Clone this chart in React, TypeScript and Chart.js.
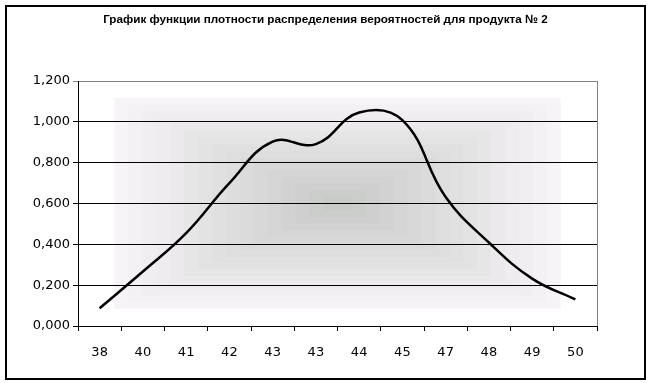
import React, { useEffect, useRef } from "react";
import { Chart, registerables } from "chart.js";

Chart.register(...registerables);

const TITLE = "График функции плотности распределения вероятностей для продукта № 2";
const categories = ["38", "40", "41", "42", "43", "43", "44", "45", "47", "48", "49", "50"];
const density = [0.087, 0.267, 0.455, 0.7, 0.903, 0.891, 1.046, 1.008, 0.632, 0.409, 0.232, 0.13];
const yTicks = [0, 0.2, 0.4, 0.6, 0.8, 1.0, 1.2];

const backgroundPlugin = {
  id: "rectGradient",
  beforeDraw(chart: any) {
    const { ctx, chartArea } = chart;
    const { left, right, top, bottom } = chartArea;
    const cx = (left + right) / 2;
    const cy = (top + bottom) / 2;
    const hw = (right - left) / 2;
    const hh = (bottom - top) / 2;
    ctx.save();
    ctx.fillStyle = "#ffffff";
    ctx.fillRect(left, top, right - left, bottom - top);
    const steps = 16;
    const limit = 0.86;
    const c0 = [197, 199, 197];
    const c1 = [247, 244, 247];
    for (let i = 0; i < steps; i++) {
      const d = limit * (1 - i / steps);
      const t = d / limit;
      const r = Math.round(c0[0] + (c1[0] - c0[0]) * t);
      const g = Math.round(c0[1] + (c1[1] - c0[1]) * t);
      const b = Math.round(c0[2] + (c1[2] - c0[2]) * t);
      ctx.fillStyle = `rgb(${r},${g},${b})`;
      ctx.fillRect(cx - hw * d, cy - hh * d, 2 * hw * d, 2 * hh * d);
    }
    ctx.restore();
  },
  afterDatasetsDraw(chart: any) {
    const { ctx, chartArea } = chart;
    ctx.save();
    ctx.strokeStyle = "#808080";
    ctx.lineWidth = 1;
    ctx.beginPath();
    ctx.moveTo(chartArea.right + 0.5, chartArea.top);
    ctx.lineTo(chartArea.right + 0.5, chartArea.bottom);
    ctx.stroke();
    ctx.restore();
  },
  afterDraw(chart: any) {
    const { ctx, width } = chart;
    ctx.save();
    ctx.fillStyle = "#000000";
    ctx.font = "bold 11.7px 'Liberation Sans', Arial, sans-serif";
    ctx.textAlign = "center";
    ctx.textBaseline = "middle";
    ctx.fillText(TITLE, width / 2 + 1, 20);
    ctx.restore();
  },
};

export default function App() {
  const ref = useRef<HTMLCanvasElement | null>(null);
  useEffect(() => {
    if (!ref.current) return;
    const chart = new Chart(ref.current, {
      type: "line",
      data: {
        labels: categories,
        datasets: [
          {
            data: density,
            borderColor: "#000000",
            borderWidth: 2.5,
            pointRadius: 0,
            tension: 0.42,
            fill: false,
          },
        ],
      },
      options: {
        animation: false,
        responsive: false,
        events: [],
        layout: { padding: { left: 0, right: 52, top: 81, bottom: 0 } },
        plugins: {
          legend: { display: false },
          tooltip: { enabled: false },
          title: { display: false },
        },
        scales: {
          x: {
            type: "category",
            offset: true,
            grid: {
              offset: true,
              drawOnChartArea: false,
              drawTicks: true,
              tickLength: 5,
              color: "#000000",
            },
            border: { color: "#000000", width: 1 },
            ticks: {
              color: "#000000",
              font: { family: "'DejaVu Sans', Verdana, sans-serif", size: 13 },
              padding: 14,
              maxRotation: 0,
              autoSkip: false,
            },
            afterFit(scale: any) {
              scale.height = 57;
            },
          },
          y: {
            min: 0,
            max: 1.2,
            afterBuildTicks(scale: any) {
              scale.ticks = yTicks.map((v) => ({ value: v }));
            },
            grid: {
              color: (c: any) => (c.tick && Math.abs(c.tick.value - 1.2) < 1e-6 ? "#808080" : "#000000"),
              drawTicks: true,
              tickLength: 5,
              lineWidth: 1,
            },
            border: { color: "#000000", width: 1 },
            ticks: {
              color: "#000000",
              font: { family: "'DejaVu Sans', Verdana, sans-serif", size: 13 },
              padding: 3,
              callback: (v: any) => Number(v).toFixed(3).replace(".", ","),
            },
            afterFit(scale: any) {
              scale.width = 78;
            },
          },
        },
      },
      plugins: [backgroundPlugin],
    });
    return () => chart.destroy();
  }, []);

  return (
    <div style={{ position: "fixed", left: 0, top: 0, width: 649, height: 383, background: "#ffffff" }}>
      <canvas ref={ref} width={649} height={383} style={{ display: "block" }} />
      <div
        style={{
          position: "absolute",
          left: 5,
          top: 5,
          width: 641,
          height: 375,
          boxSizing: "border-box",
          border: "2px solid #000000",
          pointerEvents: "none",
        }}
      />
    </div>
  );
}
